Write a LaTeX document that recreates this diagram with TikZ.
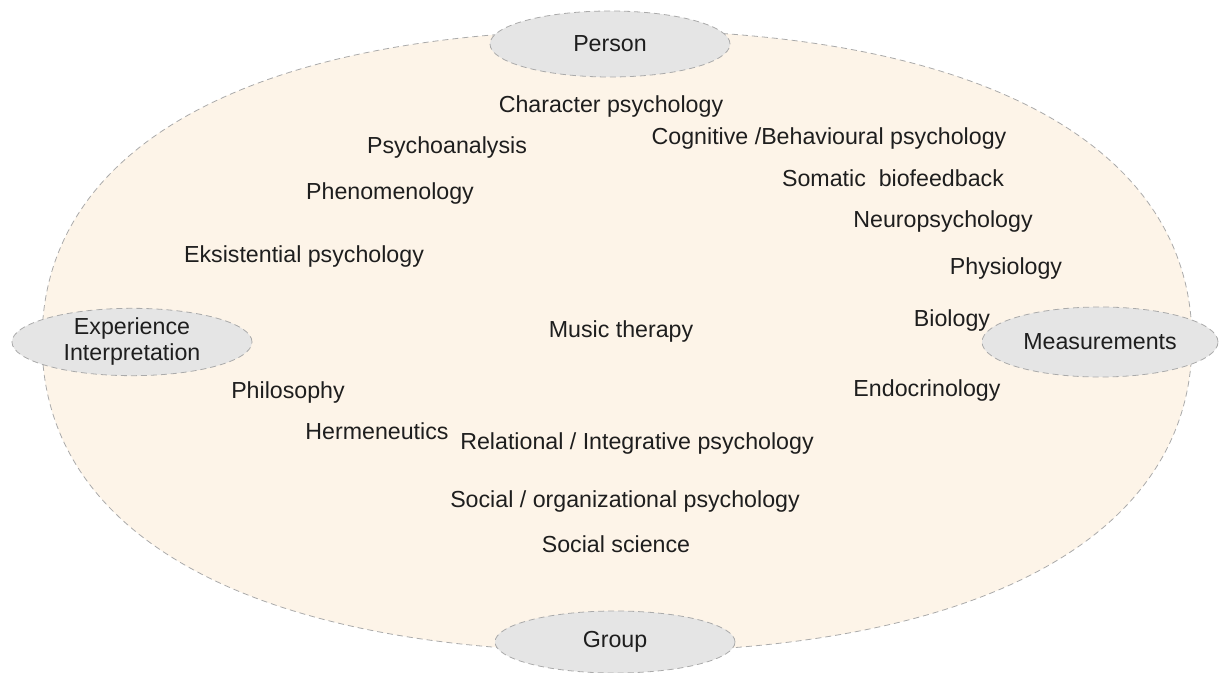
\documentclass[tikz,border=0pt]{standalone}
\usepackage{fontspec}
\setmainfont{Liberation Sans}
\usetikzlibrary{shapes.geometric}
\definecolor{peach}{RGB}{253,244,232}
\definecolor{polegray}{RGB}{229,229,229}
\definecolor{rimgray}{RGB}{170,170,170}
\definecolor{inkgray}{RGB}{30,30,30}
\tikzset{
  pole/.style={ellipse, fill=polegray, draw=rimgray, densely dashed, thin, inner sep=0pt, align=center},
  field/.style={text=inkgray}
}

\begin{document}
\begin{tikzpicture}[x=0.5pt, y=-0.5pt, every node/.style={font=\fontsize{11.6}{13}\selectfont, text=inkgray}]
\useasboundingbox (0,0) rectangle (1220,673);
% the big field, a little fuller than an ellipse
\filldraw[fill=peach, draw=rimgray, densely dashed, thin]
  (1192,341) .. controls (1192,537) and (979,652) .. (617,652)
  .. controls (255,652) and (42,537) .. (42,341)
  .. controls (42,145) and (255,30) .. (617,30)
  .. controls (979,30) and (1192,145) .. (1192,341) -- cycle;
% the four poles
\node[pole, minimum width=120pt, minimum height=33pt] (person) at (610,44) {Person};
\node[pole, minimum width=120pt, minimum height=31pt] (group) at (615,642) {Group};
\node[pole, minimum width=120pt, minimum height=33pt] (experience) at (132,342) {Experience\\Interpretation};
\node[pole, minimum width=118pt, minimum height=35pt] (measures) at (1100,342) {Measurements};
% fields
\node[field] (character) at (611,107) {Character psychology};
\node[field] (psychoanalysis) at (447,148) {Psychoanalysis};
\node[field] (cognitive) at (829,139) {Cognitive /Behavioural psychology};
\node[field] (somatic) at (893,178) {Somatic\ \ biofeedback};
\node[field] (phenomenology) at (390,194) {Phenomenology};
\node[field] (neuro) at (943,222) {Neuropsychology};
\node[field] (existential) at (304,257) {Eksistential psychology};
\node[field] (physiology) at (1006,269) {Physiology};
\node[field] (biology) at (952,321) {Biology};
\node[field] (music) at (621,332) {Music therapy};
\node[field] (philosophy) at (288,393) {Philosophy};
\node[field] (endocrinology) at (927,391) {Endocrinology};
\node[field] (hermeneutics) at (377,431) {Hermeneutics};
\node[field] (relational) at (637,444) {Relational / Integrative psychology};
\node[field] (organizational) at (625,502) {Social / organizational psychology};
\node[field] (social) at (616,544) {Social science};
\end{tikzpicture}
\end{document}
